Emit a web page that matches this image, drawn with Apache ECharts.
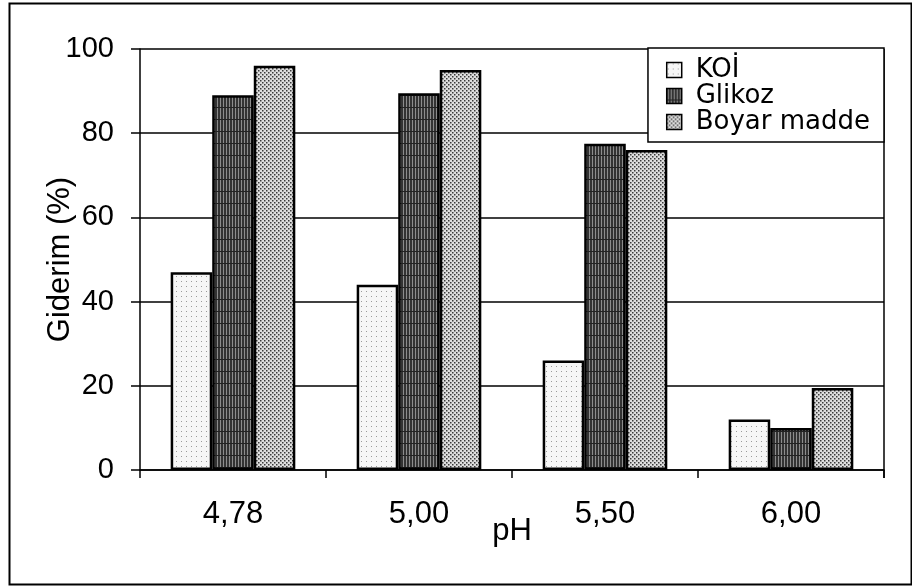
<!DOCTYPE html>
<html>
<head>
<meta charset="utf-8">
<script src="https://cdn.jsdelivr.net/npm/echarts@6/dist/echarts.min.js"></script>
<style>
  html, body { margin: 0; padding: 0; background: #fff; }
  #chart { width: 912px; height: 588px; }
</style>
</head>
<body>
<div id="chart"></div>
<script>
// Giderim (%) vs pH — grouped bars, scanned-figure look (hatched fills, black outlines)

const categories = ['4,78', '5,00', '5,50', '6,00'];
const koi = [47, 44, 26, 12];
const glikoz = [89, 89.5, 77.5, 10];
const boyar = [96, 95, 76, 19.5];
const yTicks = { min: 0, max: 100, step: 20 };

// small canvas tiles used as repeating fills
function tile(w, h, draw) {
  const c = document.createElement('canvas');
  c.width = w;
  c.height = h;
  draw(c.getContext('2d'));
  return { image: c, repeat: 'repeat' };
}

const koiFill = tile(5, 5, (ctx) => {
  ctx.fillStyle = '#f6f6f6';
  ctx.fillRect(0, 0, 5, 5);
  ctx.fillStyle = '#9a9a9a';
  ctx.fillRect(1, 1, 1, 1);
});

// dark, vertical striations
const glikozFill = tile(3, 12, (ctx) => {
  ctx.fillStyle = '#333';
  ctx.fillRect(0, 0, 3, 12);
  ctx.fillStyle = '#8c8c8c';
  ctx.fillRect(1, 0, 1, 12);
  ctx.fillStyle = '#222';
  ctx.fillRect(0, 11, 3, 1);
});

const boyarFill = tile(4, 4, (ctx) => {
  ctx.fillStyle = '#dedede';
  ctx.fillRect(0, 0, 4, 4);
  ctx.fillStyle = '#3a3a3a';
  ctx.fillRect(0, 0, 1.5, 1.5);
  ctx.fillRect(2, 2, 1.5, 1.5);
});

const font = 'Liberation Sans, Arial, sans-serif';
const ink = '#000';

function bar(name, data, fill) {
  return {
    name,
    type: 'bar',
    data,
    barGap: '0%',
    barCategoryGap: '33%',
    itemStyle: { color: fill, borderColor: ink, borderWidth: 2.5 },
  };
}

const chart = echarts.init(document.getElementById('chart'), null, { renderer: 'canvas' });

chart.setOption({
  animation: false,
  backgroundColor: '#fff',
  grid: { left: 140, right: 28, top: 49, bottom: 118 },
  legend: {
    orient: 'vertical',
    right: 28,
    top: 48,
    itemWidth: 15,
    itemHeight: 15,
    itemGap: 0,
    padding: [9, 14, 7, 18],
    backgroundColor: '#fff',
    borderColor: ink,
    borderWidth: 1.5,
    borderRadius: 0,
    icon: 'rect',
    itemStyle: { borderColor: ink, borderWidth: 1.5 },
    textStyle: {
      fontFamily: 'DejaVu Sans, sans-serif',
      fontSize: 26,
      lineHeight: 26,
      color: ink,
      padding: [0, 0, 0, 9],
    },
    data: ['KOİ', 'Glikoz', 'Boyar madde'],
  },
  xAxis: {
    type: 'category',
    data: categories,
    name: 'pH',
    nameLocation: 'middle',
    nameGap: 46,
    nameMoveOverlap: false,
    nameTextStyle: { fontFamily: font, fontSize: 31, color: ink },
    axisLine: { lineStyle: { color: ink, width: 1.5 } },
    axisTick: { show: true, alignWithLabel: false, length: 8, lineStyle: { color: ink, width: 1.5 } },
    axisLabel: { fontFamily: font, fontSize: 31, color: ink, margin: 29 },
  },
  yAxis: {
    type: 'value',
    min: yTicks.min,
    max: yTicks.max,
    interval: yTicks.step,
    name: 'Giderim (%)',
    nameLocation: 'middle',
    nameRotate: 90,
    nameGap: 64,
    nameMoveOverlap: false,
    nameTextStyle: { fontFamily: font, fontSize: 31, color: ink },
    axisLine: { show: true, lineStyle: { color: ink, width: 1.5 } },
    axisTick: { show: true, length: 9, lineStyle: { color: ink, width: 1.5 } },
    axisLabel: { fontFamily: font, fontSize: 29, color: ink, margin: 26 },
    splitLine: { lineStyle: { color: ink, width: 1.5 } },
  },
  graphic: [
    {
      type: 'rect',
      left: 7,
      top: 1,
      shape: { width: 902, height: 581 },
      style: { fill: 'none', stroke: ink, lineWidth: 2 },
      silent: true,
    },
    {
      // plot area right edge
      type: 'line',
      shape: { x1: 884, y1: 49, x2: 884, y2: 478 },
      style: { stroke: ink, lineWidth: 1.5 },
      silent: true,
    },
  ],
  series: [
    bar('KOİ', koi, koiFill),
    bar('Glikoz', glikoz, glikozFill),
    bar('Boyar madde', boyar, boyarFill),
  ],
});
</script>
</body>
</html>
